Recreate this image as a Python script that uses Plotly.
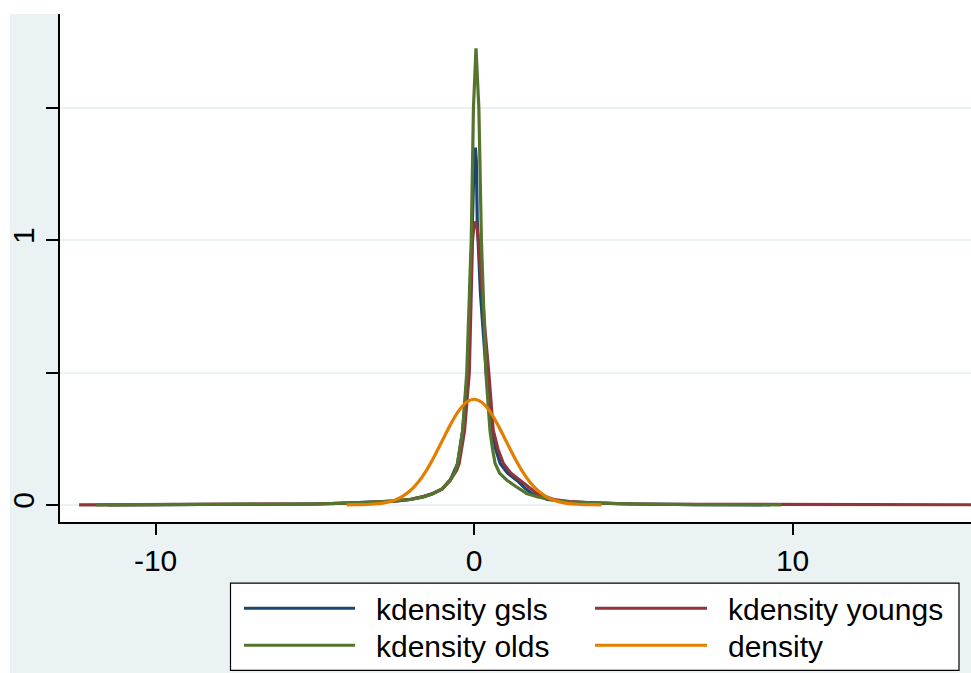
import plotly.graph_objects as go

# ---------------- data ----------------
series_names = ["kdensity gsls", "kdensity youngs", "kdensity olds", "density"]

gsls_x = [-11.5, -8, -6, -5, -4, -3, -2.5, -2, -1.6, -1.3, -1.0, -0.75, -0.52, -0.36,
          -0.2, -0.07, 0.0, 0.04, 0.07, 0.10, 0.2, 0.38, 0.56, 0.68, 0.82, 1.05, 1.34,
          1.6, 1.81, 2.3, 3, 4, 5, 7, 9.3]
gsls_y = [0.0, 0.001, 0.002, 0.003, 0.006, 0.010, 0.014, 0.020, 0.030, 0.042, 0.060,
          0.093, 0.156, 0.28, 0.50, 1.0, 1.30, 1.35, 1.30, 1.07, 0.80, 0.50, 0.282,
          0.21, 0.156, 0.12, 0.093, 0.062, 0.043, 0.020, 0.011, 0.006, 0.003, 0.001, 0.0]

youngs_x = [-12.4, -8, -6, -5, -4, -3, -2.5, -2, -1.6, -1.3, -1.0, -0.75, -0.55, -0.47,
            -0.30, -0.22, -0.15, -0.05, 0.0, 0.05, 0.09, 0.135, 0.25, 0.35, 0.46, 0.60,
            0.75, 0.92, 1.15, 1.44, 1.70, 1.97, 2.5, 3, 3.5, 4.5, 6, 8, 12, 17]
youngs_y = [0.0, 0.001, 0.002, 0.003, 0.006, 0.010, 0.015, 0.021, 0.031, 0.043, 0.060,
            0.093, 0.13, 0.156, 0.28, 0.40, 0.50, 1.0, 1.06, 1.069, 1.05, 1.0, 0.80,
            0.65, 0.50, 0.282, 0.21, 0.156, 0.12, 0.093, 0.065, 0.043, 0.020, 0.012,
            0.008, 0.004, 0.002, 0.001, 0.0, 0.0]

olds_x = [-11.87, -8, -6, -5, -4, -3, -2.5, -2, -1.6, -1.3, -1.0, -0.75, -0.6, -0.52,
          -0.36, -0.23, -0.15, -0.09, -0.02, 0.06, 0.15, 0.23, 0.30, 0.37, 0.44, 0.50,
          0.58, 0.66, 0.80, 1.03, 1.30, 1.65, 2.0, 2.5, 3, 4, 5, 7, 9.65]
olds_y = [0.0, 0.001, 0.002, 0.003, 0.006, 0.010, 0.014, 0.020, 0.030, 0.042, 0.060,
          0.093, 0.125, 0.156, 0.28, 0.50, 0.75, 1.0, 1.5, 1.725, 1.5, 1.0, 0.75, 0.50,
          0.38, 0.28, 0.21, 0.156, 0.12, 0.093, 0.070, 0.043, 0.030, 0.018, 0.010,
          0.005, 0.003, 0.001, 0.0]

density_x = [-4, -3.75, -3.5, -3.25, -3, -2.75, -2.5, -2.25, -2, -1.75, -1.5, -1.25, -1,
             -0.75, -0.5, -0.25, 0, 0.25, 0.5, 0.75, 1, 1.25, 1.5, 1.75, 2, 2.25, 2.5,
             2.75, 3, 3.25, 3.5, 3.75, 4]
density_y = [0.0001, 0.0004, 0.0009, 0.0020, 0.0044, 0.0091, 0.0175, 0.0317, 0.0540,
             0.0863, 0.1295, 0.1826, 0.2420, 0.3011, 0.3521, 0.3867, 0.3989, 0.3867,
             0.3521, 0.3011, 0.2420, 0.1826, 0.1295, 0.0863, 0.0540, 0.0317, 0.0175,
             0.0091, 0.0044, 0.0020, 0.0009, 0.0004, 0.0001]

x_tickvals = [-10, 0, 10]
x_ticktext = ["-10", "0", "10"]
y_tickvals = [0, 0.5, 1, 1.5]
y_ticktext = ["0", "", "1", ""]

colors = ["#1A476F", "#90353B", "#55752F", "#E37E00"]

# ---------------- figure ----------------
W, H = 971, 673
ML, MR, MT = 60, 0, 14
PLOT_BOTTOM = 521.7
MB = H - PLOT_BOTTOM
PW, PH = W - ML - MR, H - MT - MB

def px(xr):
    """screen x pixel -> paper fraction"""
    return (xr - ML) / PW

def py(yr):
    """screen y pixel -> paper fraction"""
    return (PLOT_BOTTOM - yr) / PH

fig = go.Figure()
data = [(gsls_x, gsls_y, "linear"), (youngs_x, youngs_y, "linear"),
        (olds_x, olds_y, "linear"), (density_x, density_y, "spline")]
for (xs, ys, shp), name, col in zip(data, series_names, colors):
    fig.add_trace(go.Scatter(x=xs, y=ys, mode="lines", name=name,
                             line=dict(color=col, width=3.2, shape=shp),
                             showlegend=False, hoverinfo="skip"))

font_family = "Liberation Sans, Arial, sans-serif"
bg = "#EAF2F3"
FS = 30

shapes = [
    # white strips outside the graph region (top and left)
    dict(type="rect", xref="paper", yref="paper", x0=px(0) - 0.02, x1=1.02,
         y0=py(14), y1=py(-10), fillcolor="white", line_width=0, layer="below"),
    dict(type="rect", xref="paper", yref="paper", x0=px(-10), x1=px(10),
         y0=py(700), y1=py(-10), fillcolor="white", line_width=0, layer="below"),
    # legend box
    dict(type="rect", xref="paper", yref="paper", x0=px(230.5), x1=px(959),
         y0=py(670), y1=py(582.7), fillcolor="white",
         line=dict(color="black", width=1.2)),
]
annotations = []
leg_cols = [(244, 355, 374), (595, 707, 726)]
leg_rows = [(608, 609), (645, 646)]
for i, (name, col) in enumerate(zip(series_names, colors)):
    r, c = divmod(i, 2)
    x0, x1, xt = leg_cols[c]
    yl, yt = leg_rows[r]
    shapes.append(dict(type="line", xref="paper", yref="paper", x0=px(x0), x1=px(x1),
                       y0=py(yl), y1=py(yl), line=dict(color=col, width=3)))
    annotations.append(dict(xref="paper", yref="paper", x=px(xt), y=py(yt), text=name,
                            showarrow=False, xanchor="left", yanchor="middle",
                            font=dict(size=FS, color="black", family=font_family)))

fig.update_layout(
    width=W, height=H,
    margin=dict(l=ML, r=MR, t=MT, b=MB, pad=0),
    paper_bgcolor=bg, plot_bgcolor="white",
    font=dict(family=font_family, size=FS, color="black"),
    shapes=shapes, annotations=annotations,
    xaxis=dict(range=[-13.0, 15.6], tickvals=x_tickvals, ticktext=x_ticktext,
               showgrid=False, zeroline=False, showline=True, linecolor="black",
               linewidth=1.5, ticks="outside", ticklen=11, tickwidth=1.5,
               tickcolor="black", tickfont=dict(size=FS)),
    yaxis=dict(range=[-0.065, 1.855], tickvals=y_tickvals, ticktext=y_ticktext,
               showgrid=True, gridcolor=bg, gridwidth=2, zeroline=False,
               showline=True, linecolor="black", linewidth=1.5, ticks="outside",
               ticklen=12, tickwidth=1.5, tickcolor="black", tickangle=-90,
               tickfont=dict(size=FS)),
)

fig.write_html(
    "out.html",
    config={"displayModeBar": False},
    post_script="document.body.style.margin='0';document.body.style.overflow='hidden';",
)
